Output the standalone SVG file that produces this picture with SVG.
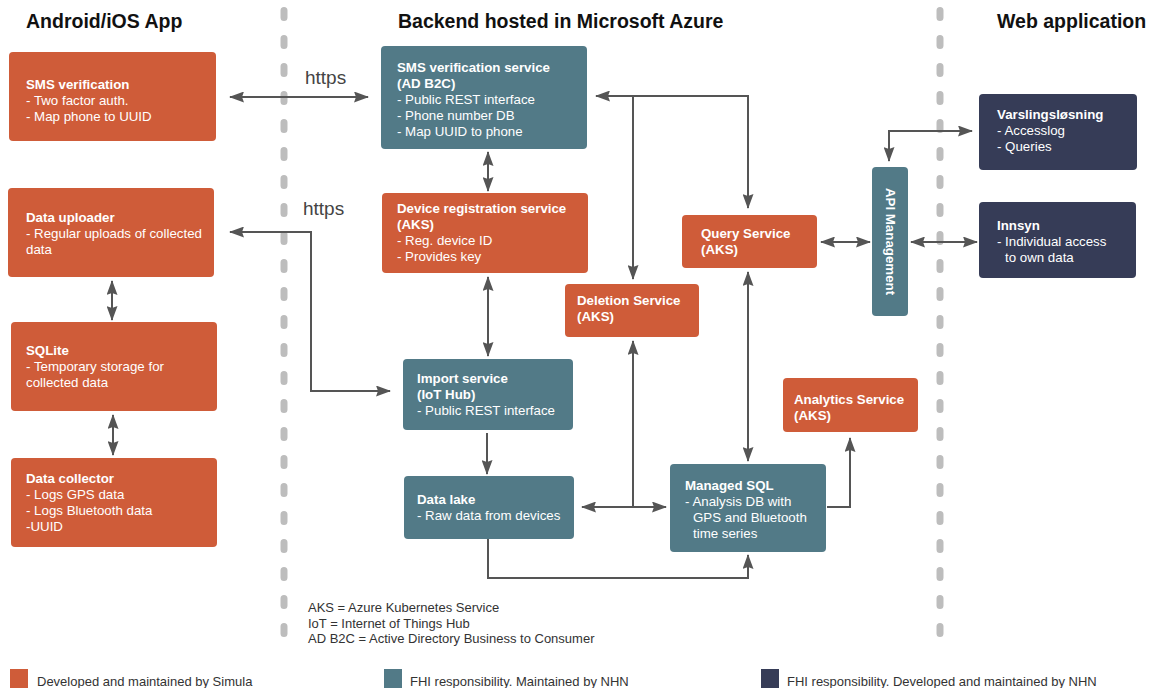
<svg xmlns="http://www.w3.org/2000/svg" width="1150" height="688" viewBox="0 0 1150 688">
<defs>
<style>
text{font-family:"Liberation Sans",Arial,sans-serif;}
.hdr{font-size:19.5px;font-weight:bold;fill:#111;}
.bt{font-size:13.3px;fill:#fff;}
.b{font-weight:bold;}
.org{fill:#CF5C39;}
.teal{fill:#527A87;}
.navy{fill:#363C57;}
.https{font-size:19px;fill:#444;}
.note{font-size:13px;fill:#333;}
.leg{font-size:13px;fill:#333;}
.dash{stroke:#BDBDBD;stroke-width:7;stroke-linecap:round;stroke-dasharray:7 21;fill:none;}
.c{stroke:#555;stroke-width:2;fill:none;}
.ah{marker-end:url(#ah);}
.dbl{marker-start:url(#ah);marker-end:url(#ah);}
</style>
<marker id="ah" markerUnits="userSpaceOnUse" markerWidth="15" markerHeight="11" refX="14" refY="5.5" orient="auto-start-reverse">
<path d="M0,0 L15,5.5 L0,11 L2,5.5 z" fill="#555"/>
</marker>
</defs>
<rect width="1150" height="688" fill="#fff"/>

<g id="separators">
<path class="dash" d="M284 10.5 V642"/>
<path class="dash" d="M940 10.5 V642"/>
</g>

<g id="headers">
<text class="hdr" x="26" y="28">Android/iOS App</text>
<text class="hdr" x="398" y="28">Backend hosted in Microsoft Azure</text>
<text class="hdr" x="997" y="28">Web application</text>
</g>

<g id="connectors">
<path class="c dbl" d="M230 97 H368"/>
<path class="c dbl" d="M230 232 H311 V391 H390"/>
<path class="c dbl" d="M112 281 V320"/>
<path class="c dbl" d="M113 415 V455"/>
<path class="c dbl" d="M488 152 V191"/>
<path class="c dbl" d="M488 277 V356"/>
<path class="c ah" d="M487 433 V474"/>
<path class="c dbl" d="M596 96 H748 V208"/>
<path class="c ah" d="M633 96 V279"/>
<path class="c dbl" d="M821 242 H870"/>
<path class="c dbl" d="M889 161 V131 H972"/>
<path class="c dbl" d="M911 242 H977"/>
<path class="c dbl" d="M748 272 V461"/>
<path class="c dbl" d="M582 507 H666"/>
<path class="c ah" d="M633 507 V341"/>
<path class="c ah" d="M488 539 V578 H748 V555"/>
<path class="c ah" d="M827 507 H850 V438"/>
</g>

<g id="labels">
<text class="https" x="305" y="84">https</text>
<text class="https" x="303" y="215">https</text>
</g>

<g id="sms-verification">
<rect class="org" x="9" y="52" width="207" height="89" rx="4"/>
<text class="bt" x="26" y="89"><tspan class="b">SMS verification</tspan><tspan x="26" dy="16">- Two factor auth.</tspan><tspan x="26" dy="16">- Map phone to UUID</tspan></text>
</g>

<g id="data-uploader">
<rect class="org" x="8" y="188" width="206" height="89" rx="4"/>
<text class="bt" x="26" y="222"><tspan class="b">Data uploader</tspan><tspan x="26" dy="16">- Regular uploads of collected</tspan><tspan x="26" dy="16">data</tspan></text>
</g>

<g id="sqlite">
<rect class="org" x="11" y="322" width="206" height="89" rx="4"/>
<text class="bt" x="26" y="355"><tspan class="b">SQLite</tspan><tspan x="26" dy="16">- Temporary storage for</tspan><tspan x="26" dy="16">collected data</tspan></text>
</g>

<g id="data-collector">
<rect class="org" x="11" y="458" width="206" height="89" rx="4"/>
<text class="bt" x="26" y="483"><tspan class="b">Data collector</tspan><tspan x="26" dy="16">- Logs GPS data</tspan><tspan x="26" dy="16">- Logs Bluetooth data</tspan><tspan x="26" dy="16">-UUID</tspan></text>
</g>

<g id="sms-verification-service">
<rect class="teal" x="381" y="46" width="206" height="103" rx="4"/>
<text class="bt" x="397" y="72"><tspan class="b">SMS verification service</tspan><tspan class="b" x="397" dy="16">(AD B2C)</tspan><tspan x="397" dy="16">- Public REST interface</tspan><tspan x="397" dy="16">- Phone number DB</tspan><tspan x="397" dy="16">- Map UUID to phone</tspan></text>
</g>

<g id="device-registration-service">
<rect class="org" x="382" y="193" width="206" height="80" rx="4"/>
<text class="bt" x="397" y="213"><tspan class="b">Device registration service</tspan><tspan class="b" x="397" dy="16">(AKS)</tspan><tspan x="397" dy="16">- Reg. device ID</tspan><tspan x="397" dy="16">- Provides key</tspan></text>
</g>

<g id="import-service">
<rect class="teal" x="403" y="359" width="170" height="71" rx="4"/>
<text class="bt" x="417" y="383"><tspan class="b">Import service</tspan><tspan class="b" x="417" dy="16">(IoT Hub)</tspan><tspan x="417" dy="16">- Public REST interface</tspan></text>
</g>

<g id="data-lake">
<rect class="teal" x="404" y="476" width="170" height="63" rx="4"/>
<text class="bt" x="417" y="504"><tspan class="b">Data lake</tspan><tspan x="417" dy="16">- Raw data from devices</tspan></text>
</g>

<g id="deletion-service">
<rect class="org" x="565" y="284" width="134" height="53" rx="4"/>
<text class="bt" x="577" y="305"><tspan class="b">Deletion Service</tspan><tspan class="b" x="577" dy="16">(AKS)</tspan></text>
</g>

<g id="query-service">
<rect class="org" x="682" y="215" width="135" height="53" rx="4"/>
<text class="bt" x="701" y="238"><tspan class="b">Query Service</tspan><tspan class="b" x="701" dy="16">(AKS)</tspan></text>
</g>

<g id="managed-sql">
<rect class="teal" x="670" y="464" width="156" height="88" rx="4"/>
<text class="bt" x="685" y="490"><tspan class="b">Managed SQL</tspan><tspan x="685" dy="16">- Analysis DB with</tspan><tspan x="693" dy="16">GPS and Bluetooth</tspan><tspan x="693" dy="16">time series</tspan></text>
</g>

<g id="analytics-service">
<rect class="org" x="783" y="378" width="135" height="54" rx="4"/>
<text class="bt" x="794" y="404"><tspan class="b">Analytics Service</tspan><tspan class="b" x="794" dy="16">(AKS)</tspan></text>
</g>

<g id="api-management">
<rect class="teal" x="872" y="167" width="36" height="149" rx="4"/>
<text class="bt b" transform="translate(885.5 241.5) rotate(90)" text-anchor="middle">API Management</text>
</g>

<g id="varslingslosning">
<rect class="navy" x="979" y="94" width="158" height="76" rx="4"/>
<text class="bt" x="997" y="119"><tspan class="b">Varslingsløsning</tspan><tspan x="997" dy="16">- Accesslog</tspan><tspan x="997" dy="16">- Queries</tspan></text>
</g>

<g id="innsyn">
<rect class="navy" x="979" y="202" width="157" height="76" rx="4"/>
<text class="bt" x="997" y="230"><tspan class="b">Innsyn</tspan><tspan x="997" dy="16">- Individual access</tspan><tspan x="1005" dy="16">to own data</tspan></text>
</g>

<g id="abbreviations">
<text class="note" x="308" y="612">AKS = Azure Kubernetes Service</text>
<text class="note" x="308" y="628">IoT = Internet of Things Hub</text>
<text class="note" x="308" y="643">AD B2C = Active Directory Business to Consumer</text>
</g>

<g id="legend">
<rect class="org" x="10" y="669" width="18" height="20"/>
<text class="leg" x="37" y="686">Developed and maintained by Simula</text>
<rect class="teal" x="384" y="669" width="18" height="20"/>
<text class="leg" x="410" y="686">FHI responsibility. Maintained by NHN</text>
<rect class="navy" x="761" y="669" width="18" height="20"/>
<text class="leg" x="787" y="686">FHI responsibility. Developed and maintained by NHN</text>
</g>
</svg>
